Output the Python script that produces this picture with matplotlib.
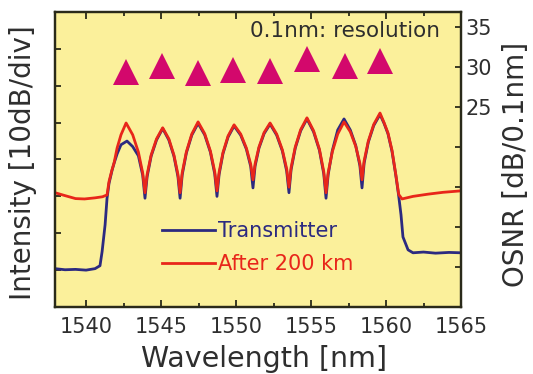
import matplotlib
matplotlib.use("Agg")
import matplotlib.pyplot as plt

# ---------------- data ----------------
# Red trace: After 200 km  (wavelength nm, intensity dB, 10 dB/div)
red_wl = [1537.93, 1538.6, 1539.3, 1539.9, 1540.6, 1541.1, 1541.4, 1541.53, 1541.73,
          1541.87, 1542.07, 1542.33, 1542.67,
          1543.11, 1543.49, 1543.78, 1543.93,
          1544.07, 1544.34, 1544.70, 1545.11, 1545.52, 1545.86, 1546.13, 1546.27,
          1546.41, 1546.69, 1547.05, 1547.47, 1547.91, 1548.29, 1548.58, 1548.73,
          1548.87, 1549.13, 1549.47, 1549.87, 1550.31, 1550.69, 1550.98, 1551.13,
          1551.27, 1551.53, 1551.87, 1552.27, 1552.71, 1553.09, 1553.38, 1553.53,
          1553.67, 1553.95, 1554.31, 1554.73, 1555.17, 1555.56, 1555.85, 1556.0,
          1556.14, 1556.42, 1556.78, 1557.2, 1557.62, 1557.98, 1558.26, 1558.4,
          1558.54, 1558.82, 1559.18, 1559.6, 1559.87, 1560.13, 1560.4, 1560.65,
          1560.85, 1561.07, 1561.8, 1562.8, 1563.8, 1565.0]
red_db = [-49.0, -49.8, -50.6, -50.7, -50.4, -50.1, -49.6, -46.0, -42.8,
          -40.9, -36.9, -33.3, -30.1,
          -33.3, -38.0, -43.7, -49.0,
          -44.1, -38.8, -34.4, -31.4, -34.4, -38.8, -44.1, -49.0,
          -43.6, -37.9, -33.1, -29.8, -33.0, -37.7, -43.3, -48.5,
          -43.5, -38.1, -33.6, -30.6, -33.1, -36.9, -41.3, -45.5,
          -41.2, -36.6, -32.7, -30.1, -33.1, -37.4, -42.6, -47.5,
          -42.2, -36.6, -31.9, -28.7, -32.2, -37.2, -43.3, -49.0,
          -43.6, -37.9, -33.1, -29.8, -32.5, -36.4, -41.1, -45.5,
          -40.4, -35.0, -30.5, -27.4, -30.0, -32.8, -37.5, -44.0,
          -49.5, -50.7, -50.0, -49.4, -48.9, -48.5]

# Blue trace: Transmitter
blue_wl = [1537.93, 1538.6, 1539.3, 1540.0, 1540.6, 1540.93, 1541.07, 1541.27, 1541.4,
           1541.53, 1541.73, 1541.87, 1542.07, 1542.33, 1542.73,
           1543.11, 1543.49, 1543.78, 1543.93,
           1544.07, 1544.34, 1544.70, 1545.11, 1545.52, 1545.86, 1546.13, 1546.27,
           1546.41, 1546.69, 1547.05, 1547.47, 1547.91, 1548.29, 1548.58, 1548.73,
           1548.87, 1549.13, 1549.47, 1549.87, 1550.31, 1550.69, 1550.98, 1551.13,
           1551.27, 1551.53, 1551.87, 1552.27, 1552.71, 1553.09, 1553.38, 1553.53,
           1553.67, 1553.95, 1554.31, 1554.73, 1555.17, 1555.56, 1555.85, 1556.0,
           1556.14, 1556.42, 1556.78, 1557.2, 1557.62, 1557.98, 1558.26, 1558.4,
           1558.54, 1558.82, 1559.18, 1559.6, 1559.87, 1560.13, 1560.4, 1560.65,
           1560.85, 1561.0, 1561.13, 1561.47, 1561.8, 1562.5, 1563.3, 1564.2, 1565.0]
blue_db = [-69.6, -69.9, -69.8, -70.0, -69.6, -68.8, -65.0, -57.7, -50.5,
           -46.5, -43.0, -41.0, -38.5, -36.0, -35.0,
           -36.5, -39.0, -44.3, -50.5,
           -44.7, -39.1, -34.7, -31.6, -34.7, -39.1, -44.7, -50.5,
           -44.2, -38.2, -33.4, -30.2, -33.3, -38.0, -43.9, -50.0,
           -44.1, -38.4, -33.9, -30.9, -33.4, -37.2, -41.9, -47.7,
           -41.8, -36.9, -33.0, -30.4, -33.4, -37.7, -43.2, -49.0,
           -42.8, -36.9, -32.2, -29.0, -32.5, -37.5, -43.9, -50.5,
           -44.2, -37.6, -32.0, -29.0, -32.0, -36.2, -41.7, -47.7,
           -41.0, -35.3, -30.8, -27.8, -30.2, -33.0, -37.8, -44.2,
           -50.0, -55.0, -61.0, -64.5, -65.3, -65.1, -65.4, -65.2, -65.3]

# OSNR per channel
osnr_wl = [1542.67, 1545.07, 1547.47, 1549.8, 1552.27, 1554.73, 1557.27, 1559.6]
osnr_db = [29.45, 30.2, 29.3, 29.7, 29.55, 31.0, 30.1, 30.8]

x_ticks = [1540, 1545, 1550, 1555, 1560, 1565]
osnr_ticks = [5, 10, 15, 20, 25, 30, 35]
osnr_labels = ["", "", "", "", "25", "30", "35"]

# ---------------- style ----------------
BG = "#fbf09b"
BLUE = "#2c2a80"
RED = "#e8261a"
TRI = "#d3086c"
TXT = "#2e2e2e"
SPINE = "#2a2a1a"

fig = plt.figure(figsize=(5.33, 3.74), dpi=100)
ax = fig.add_axes([55 / 533, 1 - 307 / 374, 406 / 533, 295 / 374])
ax.set_facecolor(BG)

ax.plot(blue_wl, blue_db, color=BLUE, lw=2.0, label="Transmitter", zorder=3)
ax.plot(red_wl, red_db, color=RED, lw=2.0, label="After 200 km", zorder=4)

ax.set_xlim(1537.93, 1565)
ax.set_ylim(-80, 0)
ax.set_xticks(x_ticks)
ax.set_xticks([t + 2.5 for t in x_ticks[:-1]], minor=True)
ax.set_yticks([-70, -60, -50, -40, -30, -20, -10])
ax.set_yticklabels([])
ax.tick_params(axis="x", which="both", direction="in", top=True, bottom=True,
               labelsize=15, labelcolor=TXT, pad=7, color=SPINE)
ax.tick_params(axis="x", which="major", length=5, width=1.3)
ax.tick_params(axis="x", which="minor", length=3, width=1.3)
ax.tick_params(axis="y", which="both", direction="in", left=True, right=False,
               length=4, width=1.3, color=SPINE)
for s in ax.spines.values():
    s.set_linewidth(1.6)
    s.set_color(SPINE)

ax2 = ax.twinx()
ax2.set_ylim(0, 36.9)
ax2.plot(osnr_wl, osnr_db, linestyle="none", marker="^", markersize=18.5,
         color=TRI, markeredgewidth=0, zorder=5)
ax2.set_yticks(osnr_ticks)
ax2.set_yticklabels(osnr_labels)
ax2.tick_params(axis="y", direction="in", length=4, width=1.3, color=SPINE,
                labelsize=15, labelcolor=TXT, pad=3)
for s in ax2.spines.values():
    s.set_linewidth(1.6)
    s.set_color(SPINE)

leg = ax.legend(loc="upper left", bbox_to_anchor=(0.264, 0.292), frameon=False,
                fontsize=15, handlelength=2.55, handletextpad=0.15,
                labelspacing=0.64, borderpad=0, borderaxespad=0)
for line, text in zip(leg.get_lines(), leg.get_texts()):
    text.set_color(line.get_color())

ax.text(0.48, 0.935, "0.1nm: resolution", transform=ax.transAxes, fontsize=15.5,
        color=TXT, ha="left", va="center")

fig.text(0.043, 0.564, "Intensity [10dB/div]", rotation=90, ha="center",
         va="center", fontsize=20, color=TXT)
fig.text(0.968, 0.559, "OSNR [dB/0.1nm]", rotation=90, ha="center",
         va="center", fontsize=20, color=TXT)
fig.text(0.495, 1 - 367 / 374, "Wavelength [nm]", ha="center", va="baseline",
         fontsize=20.5, color=TXT)

fig.savefig("out.png", dpi=100)
